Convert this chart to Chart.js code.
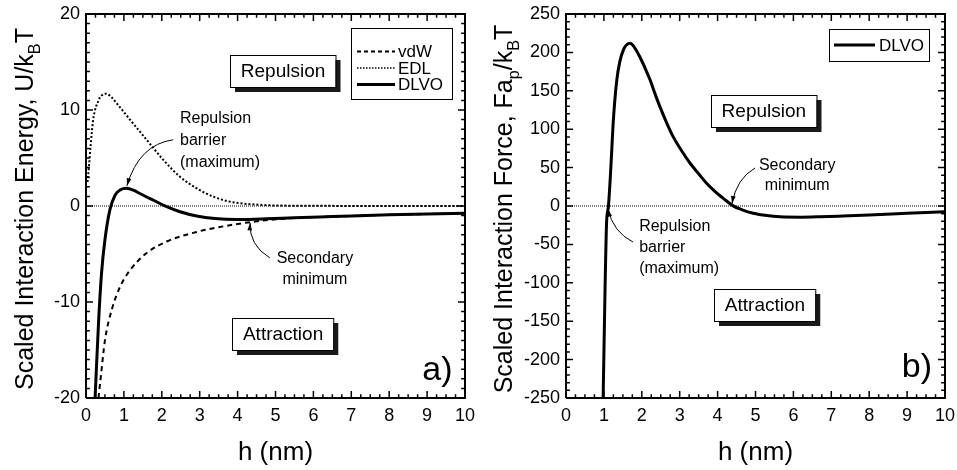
<!DOCTYPE html>
<html>
<head>
<meta charset="utf-8">
<script src="https://cdn.jsdelivr.net/npm/chart.js@4"></script>
<style>
  body { margin: 0; background: #fff; }
  #wrap { position: relative; width: 957px; height: 470px; }
  #chartA { position: absolute; left: 0; top: 0; }
  #chartB { position: absolute; left: 478px; top: 0; }
</style>
</head>
<body>
<div id="wrap">
  <canvas id="chartA" width="478" height="470"></canvas>
  <canvas id="chartB" width="479" height="470"></canvas>
</div>
<script>
const FONT = '"Liberation Sans", Arial, Helvetica, sans-serif';

// panel a) scaled interaction energy U/kBT vs h (nm)
const hVdw = [0.33, 0.39, 0.5, 0.68, 0.9, 1.16, 1.6, 2.13, 2.92, 3.8, 4.6, 5.5, 6.5, 8, 10];
const vdwEnergy = [-20, -17.8, -14, -10.8, -8.4, -6.7, -4.9, -3.7, -2.7, -2.0, -1.55, -1.25, -1.1, -0.92, -0.76];

const hEdl = [0.04, 0.08, 0.12, 0.19, 0.33, 0.41, 0.53, 0.68, 0.81, 1.16, 1.6, 2.04, 2.48, 2.92, 3.36, 3.8, 4.7, 5.6, 7, 8.5, 10];
const edlEnergy = [2.5, 4.2, 6.2, 9.0, 11.0, 11.5, 11.7, 11.3, 10.7, 9.0, 6.9, 4.8, 3.05, 1.84, 0.97, 0.45, 0.1, 0.03, 0.01, 0, 0];

const hDlvo = [0.24, 0.33, 0.41, 0.5, 0.63, 0.77, 0.9, 1.07, 1.25, 1.42, 1.78, 2.13, 2.48, 2.92, 3.4, 4.0, 4.77, 5.5, 6.5, 8, 10];
const dlvoEnergy = [-20, -12.2, -7.0, -3.5, -0.4, 1.15, 1.67, 1.84, 1.65, 1.3, 0.6, -0.07, -0.6, -1.04, -1.3, -1.4, -1.33, -1.22, -1.1, -0.92, -0.76];

// panel b) scaled interaction force F ap/kBT vs h (nm)
const hForce = [0.98, 1.03, 1.07, 1.12, 1.18, 1.25, 1.34, 1.42, 1.52, 1.6, 1.69, 1.8, 1.95, 2.1, 2.22, 2.35, 2.48, 2.65, 2.83, 3.05, 3.27, 3.5, 3.71, 3.95, 4.15, 4.4, 4.65, 4.94, 5.3, 5.65, 6.2, 6.7, 7.3, 8.0, 9.0, 10];
const dlvoForce = [-250, -109, -22.6, 0, 47, 112, 164, 188, 204, 210, 212, 207, 194, 178, 164, 146, 129, 109, 90, 72, 56, 42, 29.5, 18, 10, 0.5, -5, -9.5, -12.5, -14, -14.5, -14, -13, -11.7, -9.5, -7.4];

const hRange = [0, 10];
const energyRange = [-20, 20];
const forceRange = [-250, 250];

function pts(xs, ys) {
  return xs.map((x, i) => ({ x: x, y: ys[i] }));
}

function zeroLine() {
  return {
    data: pts(hRange, [0, 0]),
    borderColor: '#000', borderWidth: 1, borderDash: [1, 1],
    pointRadius: 0
  };
}

function curve(xs, ys, width, dash) {
  return {
    data: pts(xs, ys),
    borderColor: '#000', borderWidth: width, borderDash: dash,
    pointRadius: 0, cubicInterpolationMode: 'monotone'
  };
}

// plot frame as a closed line through the four corners of the axes
function frameSet(yRange) {
  return {
    data: [
      { x: hRange[0], y: yRange[0] }, { x: hRange[1], y: yRange[0] },
      { x: hRange[1], y: yRange[1] }, { x: hRange[0], y: yRange[1] },
      { x: hRange[0], y: yRange[0] }
    ],
    borderColor: '#000', borderWidth: 2, pointRadius: 0, clip: false
  };
}

// inward tick marks on all four sides, one short segment each, split by gaps
// lenX: length of y-axis ticks in h units, lenY: length of x-axis ticks in y units
function tickSet(yRange, xMinor, xEvery, yMinor, yEvery, lenX, lenY) {
  const data = [];
  const nx = Math.round((hRange[1] - hRange[0]) / xMinor);
  for (let i = 0; i <= nx; i++) {
    const v = hRange[0] + i * xMinor;
    const l = (i % xEvery === 0) ? lenY : lenY * 0.55;
    data.push({ x: v, y: yRange[0] }, { x: v, y: yRange[0] + l }, { x: v, y: null });
    data.push({ x: v, y: yRange[1] }, { x: v, y: yRange[1] - l }, { x: v, y: null });
  }
  const ny = Math.round((yRange[1] - yRange[0]) / yMinor);
  for (let i = 0; i <= ny; i++) {
    const v = yRange[0] + i * yMinor;
    const l = (i % yEvery === 0) ? lenX : lenX * 0.55;
    data.push({ x: hRange[0], y: v }, { x: hRange[0] + l, y: v }, { x: hRange[0] + l, y: null });
    data.push({ x: hRange[1], y: v }, { x: hRange[1] - l, y: v }, { x: hRange[1] - l, y: null });
  }
  return {
    data: data, borderColor: '#000', borderWidth: 1.5, pointRadius: 0,
    spanGaps: false, clip: false
  };
}

// rotated y title, parts flagged sub are drawn small and lowered
function drawRich(ctx, parts, x, y, size) {
  const widths = [];
  let total = 0;
  parts.forEach(p => {
    ctx.font = (p.sub ? size * 0.65 : size) + 'px ' + FONT;
    const w = ctx.measureText(p.t).width;
    widths.push(w);
    total += w;
  });
  ctx.save();
  ctx.translate(x, y);
  ctx.rotate(-Math.PI / 2);
  ctx.textAlign = 'left';
  ctx.textBaseline = 'alphabetic';
  ctx.fillStyle = '#000';
  let cx = -total / 2;
  parts.forEach((p, i) => {
    ctx.font = (p.sub ? size * 0.65 : size) + 'px ' + FONT;
    ctx.fillText(p.t, cx, p.sub ? size * 0.28 : 0);
    cx += widths[i];
  });
  ctx.restore();
}

// titles, boxed labels, notes, arrows, panel letter and legend
function makeDeco(cfg) {
  return {
    id: 'deco',
    afterDraw(chart) {
      const ctx = chart.ctx;
      const xs = chart.scales.x, ys = chart.scales.y;
      const X = v => xs.getPixelForValue(v);
      const Y = v => ys.getPixelForValue(v);
      const right = X(hRange[1]);
      const top = Y(cfg.yRange[1]), bottom = Y(cfg.yRange[0]);
      ctx.save();
      ctx.setLineDash([]);
      ctx.strokeStyle = '#000';
      ctx.fillStyle = '#000';

      drawRich(ctx, cfg.yTitle, cfg.yTitleX, (top + bottom) / 2 + 3, 25);

      ctx.font = '19px ' + FONT;
      ctx.textAlign = 'center';
      ctx.textBaseline = 'middle';
      cfg.boxes.forEach(b => {
        const w = ctx.measureText(b.text).width + 21;
        const bh = 32;
        const bx = Math.round(X(b.x) - w / 2), by = Math.round(Y(b.y) - bh / 2);
        ctx.fillStyle = '#1a1a1a';
        ctx.fillRect(bx + 5, by + 5, w, bh);
        ctx.fillStyle = '#fff';
        ctx.fillRect(bx, by, w, bh);
        ctx.lineWidth = 1;
        ctx.strokeRect(bx + 0.5, by + 0.5, w, bh);
        ctx.fillStyle = '#000';
        ctx.fillText(b.text, X(b.x), Y(b.y) + 1);
      });

      ctx.font = '16px ' + FONT;
      cfg.notes.forEach(n => {
        ctx.textAlign = n.align;
        n.lines.forEach((t, i) => {
          ctx.fillText(t, X(n.x), Y(n.y) + i * n.gap);
        });
      });

      ctx.lineWidth = 1;
      cfg.arrows.forEach(a => {
        const x0 = X(a.from[0]), y0 = Y(a.from[1]);
        const qx = X(a.ctrl[0]), qy = Y(a.ctrl[1]);
        const x1 = X(a.to[0]), y1 = Y(a.to[1]);
        ctx.beginPath();
        ctx.moveTo(x0, y0);
        ctx.quadraticCurveTo(qx, qy, x1, y1);
        ctx.stroke();
        const ang = Math.atan2(y1 - qy, x1 - qx);
        ctx.beginPath();
        ctx.moveTo(x1, y1);
        ctx.lineTo(x1 - 8 * Math.cos(ang - 0.3), y1 - 8 * Math.sin(ang - 0.3));
        ctx.lineTo(x1 - 8 * Math.cos(ang + 0.3), y1 - 8 * Math.sin(ang + 0.3));
        ctx.closePath();
        ctx.fill();
      });

      ctx.font = '34px ' + FONT;
      ctx.textAlign = 'center';
      ctx.fillText(cfg.letter, X(cfg.letterAt[0]), Y(cfg.letterAt[1]));

      const L = cfg.legend;
      const lx = Math.round(right - L.dx - L.w), ly = Math.round(top + L.dy);
      ctx.fillStyle = '#fff';
      ctx.fillRect(lx, ly, L.w, L.h);
      ctx.lineWidth = 1;
      ctx.strokeRect(lx + 0.5, ly + 0.5, L.w, L.h);
      ctx.fillStyle = '#000';
      ctx.font = '17px ' + FONT;
      ctx.textAlign = 'left';
      L.items.forEach((it, i) => {
        const ry = ly + L.first + i * 16.5;
        ctx.lineWidth = it.width;
        ctx.setLineDash(it.dash);
        ctx.beginPath();
        ctx.moveTo(lx + L.lineX, ry);
        ctx.lineTo(lx + L.lineX + L.lineW, ry);
        ctx.stroke();
        ctx.setLineDash([]);
        ctx.fillText(it.label, lx + L.textX, ry + 1);
      });
      ctx.restore();
    }
  };
}

function baseOptions(yRange, yStep, yWidth, padRight) {
  return {
    responsive: false,
    animation: false,
    devicePixelRatio: 1,
    events: [],
    layout: { padding: { top: 14, right: padRight, bottom: 0, left: 0 } },
    scales: {
      x: {
        type: 'linear', min: hRange[0], max: hRange[1],
        grid: { display: false, drawTicks: false },
        border: { display: false },
        ticks: { stepSize: 1, padding: 7, color: '#000', maxRotation: 0, autoSkip: false,
                 font: { family: FONT, size: 18 } },
        title: { display: true, text: 'h (nm)', color: '#000', padding: { top: 0, bottom: 2 },
                 font: { family: FONT, size: 26 } },
        afterFit(s) { s.height = 72; s.paddingLeft = 0; s.paddingRight = 0; }
      },
      y: {
        type: 'linear', min: yRange[0], max: yRange[1],
        grid: { display: false, drawTicks: false },
        border: { display: false },
        ticks: { stepSize: yStep, padding: 6, color: '#000', autoSkip: false,
                 font: { family: FONT, size: 18 } },
        afterFit(s) { s.width = yWidth; s.paddingTop = 0; s.paddingBottom = 0; }
      }
    },
    plugins: { legend: { display: false }, tooltip: { enabled: false } }
  };
}

new Chart(document.getElementById('chartA'), {
  type: 'line',
  data: {
    datasets: [
      frameSet(energyRange),
      tickSet(energyRange, 0.25, 4, 1, 10, 0.185, 0.73),
      zeroLine(),
      curve(hVdw, vdwEnergy, 2, [5, 4]),
      curve(hEdl, edlEnergy, 2, [2, 2]),
      curve(hDlvo, dlvoEnergy, 3, [])
    ]
  },
  options: baseOptions(energyRange, 10, 86, 13),
  plugins: [
    makeDeco({
      yRange: energyRange,
      yTitleX: 33,
      yTitle: [{ t: 'Scaled Interaction Energy, U/k' }, { t: 'B', sub: true }, { t: 'T' }],
      boxes: [{ text: 'Repulsion', x: 5.2, y: 14.1 }, { text: 'Attraction', x: 5.2, y: -13.3 }],
      notes: [
        { lines: ['Repulsion', 'barrier', '(maximum)'], x: 2.48, y: 9.1, gap: 22, align: 'left' },
        { lines: ['Secondary', 'minimum'], x: 6.04, y: -5.5, gap: 21, align: 'center' }
      ],
      arrows: [
        { from: [2.3, 6.9], ctrl: [1.4, 6.4], to: [1.08, 2.1] },
        { from: [4.85, -5.4], ctrl: [4.3, -4.1], to: [4.33, -1.75] }
      ],
      letter: 'a)', letterAt: [9.27, -17.1],
      legend: { w: 101, h: 71, dx: 13, dy: 14, first: 23.5, lineX: 6, lineW: 38, textX: 47,
        items: [
          { label: 'vdW', dash: [4, 3], width: 2 },
          { label: 'EDL', dash: [1.5, 1.5], width: 1.5 },
          { label: 'DLVO', dash: [], width: 3 }
        ] }
    })
  ]
});

new Chart(document.getElementById('chartB'), {
  type: 'line',
  data: {
    datasets: [
      frameSet(forceRange),
      tickSet(forceRange, 0.25, 4, 10, 5, 0.185, 9.1),
      zeroLine(),
      curve(hForce, dlvoForce, 3, [])
    ]
  },
  options: baseOptions(forceRange, 50, 88, 12),
  plugins: [
    makeDeco({
      yRange: forceRange,
      yTitleX: 34,
      yTitle: [{ t: 'Scaled Interaction Force, Fa' }, { t: 'p', sub: true }, { t: '/k' }, { t: 'B', sub: true }, { t: 'T' }],
      boxes: [{ text: 'Repulsion', x: 5.22, y: 124 }, { text: 'Attraction', x: 5.25, y: -129 }],
      notes: [
        { lines: ['Secondary', 'minimum'], x: 6.1, y: 53, gap: 20, align: 'center' },
        { lines: ['Repulsion', 'barrier', '(maximum)'], x: 1.93, y: -27, gap: 21, align: 'left' }
      ],
      arrows: [
        { from: [4.99, 49.5], ctrl: [4.5, 36], to: [4.38, 3] },
        { from: [1.77, -47], ctrl: [1.24, -34], to: [1.11, -4] }
      ],
      letter: 'b)', letterAt: [9.26, -210],
      legend: { w: 100, h: 32, dx: 16, dy: 15, first: 16, lineX: 5, lineW: 41, textX: 50,
        items: [{ label: 'DLVO', dash: [], width: 3 }] }
    })
  ]
});
</script>
</body>
</html>
